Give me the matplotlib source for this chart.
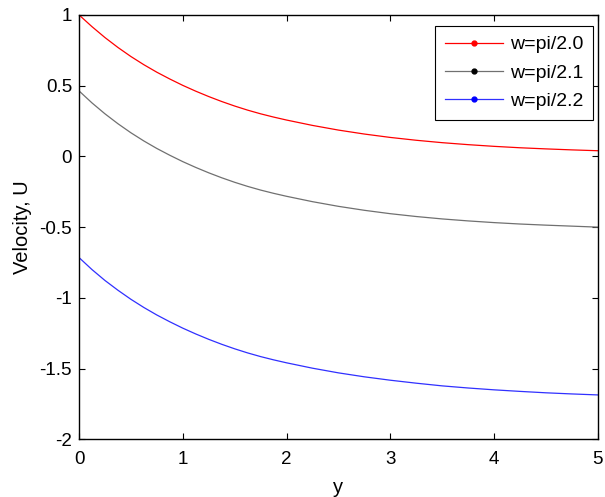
import numpy as np
import matplotlib
matplotlib.use("Agg")
import matplotlib.pyplot as plt
from matplotlib.lines import Line2D
from matplotlib.ticker import FormatStrFormatter

plt.rcParams['font.family'] = ['Liberation Sans', 'DejaVu Sans']
plt.rcParams['axes.unicode_minus'] = False

# values
y_pos = [0, 0.125, 0.25, 0.375, 0.5, 0.625, 0.75, 0.875, 1, 1.125, 1.25, 1.375,
         1.5, 1.625, 1.75, 1.875, 2, 2.25, 2.5, 2.75, 3, 3.25, 3.5, 3.75, 4,
         4.25, 4.5, 4.75, 5]
u_20 = [1.00, 0.917, 0.84, 0.77, 0.706, 0.648, 0.595, 0.547, 0.502, 0.461, 0.423,
        0.388, 0.356, 0.327, 0.301, 0.278, 0.257, 0.219, 0.186, 0.158, 0.134,
        0.114, 0.097, 0.083, 0.071, 0.061, 0.053, 0.046, 0.04]
u_21 = [0.463, 0.378, 0.301, 0.231, 0.167, 0.109, 0.056, 0.008, -0.037, -0.078,
        -0.116, -0.151, -0.183, -0.212, -0.238, -0.261, -0.282, -0.32, -0.353,
        -0.381, -0.405, -0.425, -0.442, -0.456, -0.468, -0.478, -0.486, -0.493,
        -0.5]
u_22 = [-0.715, -0.80, -0.877, -0.946, -1.01, -1.068, -1.121, -1.169, -1.214,
        -1.255, -1.293, -1.328, -1.36, -1.389, -1.415, -1.438, -1.459, -1.497,
        -1.53, -1.558, -1.582, -1.603, -1.622, -1.637, -1.65, -1.661, -1.671,
        -1.679, -1.686]
labels = ['w=pi/2.0', 'w=pi/2.1', 'w=pi/2.2']
line_colors = ['#ff0000', '#707070', '#3030ff']
dot_colors = ['#ff0000', '#000000', '#0000ff']

fig = plt.figure(figsize=(6.05, 4.97), dpi=100)
ax = fig.add_axes([0.1306, 0.116, 0.8574, 0.854])

for u, c in zip([u_20, u_21, u_22], line_colors):
    ax.plot(y_pos, u, color=c, lw=0.9)

ax.set_xlim(0, 5)
ax.set_ylim(-2, 1)
ax.set_xticks(np.arange(0, 6, 1))
ax.set_yticks(np.arange(-2, 1.01, 0.5))
ax.yaxis.set_major_formatter(FormatStrFormatter('%g'))
ax.tick_params(direction='in', top=True, right=True, length=4, width=0.8,
               labelsize=13.5)
ax.tick_params(axis='x', pad=8.5)
ax.tick_params(axis='y', pad=5)
for s in ax.spines.values():
    s.set_linewidth(1.0)

ax.set_xlabel('y', fontsize=14.5, labelpad=7)
ax.set_ylabel('Velocity, U', fontsize=14.5, labelpad=5)

handles = [Line2D([0], [0], color=lc, lw=0.9, marker='.', markersize=7,
                  markerfacecolor=dc, markeredgecolor=dc)
           for lc, dc in zip(line_colors, dot_colors)]
leg = ax.legend(handles, labels, loc='upper right',
                bbox_to_anchor=(593 / 605, 1 - 26 / 497),
                bbox_transform=fig.transFigure, fontsize=14, numpoints=1,
                handlelength=3.0, handletextpad=0.35, labelspacing=0.55,
                borderpad=0.5, borderaxespad=0, fancybox=False, framealpha=1,
                edgecolor='black')
leg.get_frame().set_linewidth(0.8)

fig.savefig('out.png', dpi=100)
